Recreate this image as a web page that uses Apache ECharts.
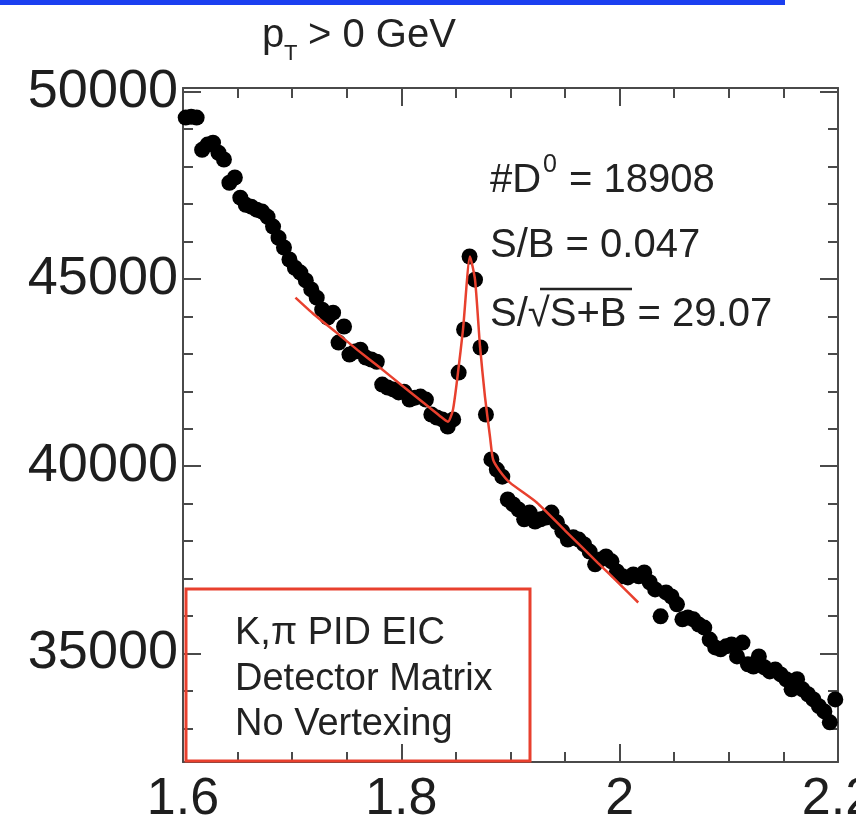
<!DOCTYPE html>
<html>
<head>
<meta charset="utf-8">
<script src="https://cdn.jsdelivr.net/npm/echarts@6/dist/echarts.min.js"></script>
<style>
html,body{margin:0;padding:0;background:#fff;}
#chart{width:856px;height:824px;}
</style>
</head>
<body>
<div id="chart"></div>
<script>
// invariant mass bin centers (GeV)
const mass = [
1.6025,1.6075,1.6125,1.6175,1.6225,1.6275,1.6325,1.6375,1.6425,1.6475,
1.6525,1.6575,1.6625,1.6675,1.6725,1.6775,1.6825,1.6875,1.6925,1.6975,
1.7025,1.7075,1.7125,1.7175,1.7225,1.7275,1.7325,1.7375,1.7425,1.7475,
1.7525,1.7575,1.7625,1.7675,1.7725,1.7775,1.7825,1.7875,1.7925,1.7975,
1.8025,1.8075,1.8125,1.8175,1.8225,1.8275,1.8325,1.8375,1.8425,1.8475,
1.8525,1.8575,1.8625,1.8675,1.8725,1.8775,1.8825,1.8875,1.8925,1.8975,
1.9025,1.9075,1.9125,1.9175,1.9225,1.9275,1.9325,1.9375,1.9425,1.9475,
1.9525,1.9575,1.9625,1.9675,1.9725,1.9775,1.9825,1.9875,1.9925,1.9975,
2.0025,2.0075,2.0125,2.0175,2.0225,2.0275,2.0325,2.0375,2.0425,2.0475,
2.0525,2.0575,2.0625,2.0675,2.0725,2.0775,2.0825,2.0875,2.0925,2.0975,
2.1025,2.1075,2.1125,2.1175,2.1225,2.1275,2.1325,2.1375,2.1425,2.1475,
2.1525,2.1575,2.1625,2.1675,2.1725,2.1775,2.1825,2.1875,2.1925,2.1975
];
// counts per bin
const counts = [
49310,49330,49310,48450,48590,48640,48370,48190,47570,47710,
47170,46980,46930,46850,46800,46660,46400,46100,45840,45520,
45300,45170,44960,44720,44500,44180,43970,44100,43300,43730,
42980,43060,43110,42900,42850,42790,42180,42100,42050,41970,
41990,41780,41830,41860,41780,41380,41300,41250,41060,41250,
42500,43650,45600,44980,43170,41380,40180,39910,39720,39110,
38980,38840,38580,38760,38520,38580,38630,38760,38500,38260,
38040,38100,38040,37910,37720,37380,37510,37590,37460,37190,
37060,37030,37110,37060,37160,36900,36710,35990,36630,36520,
36310,35910,35960,35910,35770,35690,35370,35160,35110,35190,
35240,34920,35290,34710,34650,34920,34630,34520,34570,34440,
34310,34040,34310,34040,33910,33770,33590,33450,33160,33770
];
// fit curve (signal + background)
const fitMass = [1.703,1.720,1.740,1.760,1.780,1.800,1.820,1.835,1.8427,1.8473,1.8519,1.8565,1.8629,1.8675,1.8721,1.8766,1.8812,1.8840,1.8900,1.8995,1.924,1.950,1.980,2.000,2.017];
const fitVal  = [44500,44050,43580,43100,42640,42170,41700,41350,41190,41510,42500,43650,45600,44980,43190,41860,40790,40180,39880,39560,39030,38280,37420,36850,36360];

const xMajor = [1.6,1.8,2.0,2.2];
const xMinor = [1.65,1.7,1.75,1.85,1.9,1.95,2.05,2.1,2.15];
const yMajor = [35000,40000,45000,50000];
const yMinor = [33000,34000,36000,37000,38000,39000,41000,42000,43000,44000,46000,47000,48000,49000];
const xMin = 1.6, xMax = 2.2, yMin = 32100, yMax = 50100;

const FONT = "'Liberation Sans', Arial, Helvetica, sans-serif";
const axisColor = '#4a4a4a';
const redColor = '#e8402e';

function xAx(pos, ticks, len, labels, showLine) {
  return {
    type: 'value', position: pos, min: xMin, max: xMax,
    axisLine: {show: showLine, onZero: false, lineStyle: {color: axisColor, width: 2}},
    axisTick: {show: true, inside: true, length: len, customValues: ticks, lineStyle: {color: axisColor, width: 2}},
    axisLabel: labels ? {show: true, customValues: xMajor, margin: 12, fontSize: 52, color: '#1e1e1e', fontFamily: FONT,
      formatter: v => String(+(+v).toFixed(1))} : {show: false},
    splitLine: {show: false}
  };
}
function yAx(pos, ticks, len, labels, showLine) {
  return {
    type: 'value', position: pos, min: yMin, max: yMax,
    axisLine: {show: showLine, onZero: false, lineStyle: {color: axisColor, width: 2}},
    axisTick: {show: true, inside: true, length: len, customValues: ticks, lineStyle: {color: axisColor, width: 2}},
    axisLabel: labels ? {show: true, customValues: yMajor, margin: 5, fontSize: 54, color: '#1e1e1e', fontFamily: FONT,
      formatter: v => String(Math.round(v))} : {show: false},
    splitLine: {show: false}
  };
}

const chart = echarts.init(document.getElementById('chart'), null, {renderer: 'canvas'});
const option = {
  backgroundColor: '#ffffff',
  animation: false,
  grid: {left: 183, right: 18, top: 88, bottom: 62, containLabel: false, outerBoundsMode: 'none'},
  xAxis: [
    xAx('bottom', xMajor, 18, true, true),
    xAx('bottom', xMinor, 10, false, false),
    xAx('top', xMajor, 18, false, true),
    xAx('top', xMinor, 10, false, false)
  ],
  yAxis: [
    yAx('left', yMajor, 18, true, true),
    yAx('left', yMinor, 10, false, false),
    yAx('right', yMajor, 18, false, true),
    yAx('right', yMinor, 10, false, false)
  ],
  series: [
    {
      type: 'scatter', xAxisIndex: 0, yAxisIndex: 0,
      data: mass.map((m, i) => [m, counts[i]]),
      symbol: 'circle', symbolSize: 16,
      itemStyle: {color: '#000000', opacity: 1}, z: 2
    },
    {
      type: 'line', xAxisIndex: 0, yAxisIndex: 0,
      data: fitMass.map((m, i) => [m, fitVal[i]]),
      showSymbol: false, symbol: 'none', smooth: 0.2,
      lineStyle: {color: redColor, width: 2.5}, z: 3
    }
  ],
  graphic: [
    {type: 'rect', shape: {x: 0, y: 0, width: 785, height: 5}, style: {fill: '#1b3ff0'}},
    // title
    {type: 'text', x: 262, y: 36, style: {text: 'p', fontSize: 40, fontFamily: FONT, fill: '#222', textVerticalAlign: 'middle', verticalAlign: 'middle'}},
    {type: 'text', x: 284, y: 54, style: {text: 'T', fontSize: 22, fontFamily: FONT, fill: '#222', textVerticalAlign: 'middle', verticalAlign: 'middle'}},
    {type: 'text', x: 308, y: 36, style: {text: '> 0 GeV', fontSize: 40, fontFamily: FONT, fill: '#222', textVerticalAlign: 'middle', verticalAlign: 'middle'}},
    // annotations
    {type: 'text', x: 490, y: 181, style: {text: '#D', fontSize: 40, fontFamily: FONT, fill: '#222', textVerticalAlign: 'middle', verticalAlign: 'middle'}},
    {type: 'text', x: 543, y: 165, style: {text: '0', fontSize: 25, fontFamily: FONT, fill: '#222', textVerticalAlign: 'middle', verticalAlign: 'middle'}},
    {type: 'text', x: 558, y: 181, style: {text: ' = 18908', fontSize: 40, fontFamily: FONT, fill: '#222', textVerticalAlign: 'middle', verticalAlign: 'middle'}},
    {type: 'text', x: 490, y: 246, style: {text: 'S/B = 0.047', fontSize: 40, fontFamily: FONT, fill: '#222', textVerticalAlign: 'middle', verticalAlign: 'middle'}},
    {type: 'text', x: 490, y: 315, style: {text: 'S/\u221AS+B = 29.07', fontSize: 40, fontFamily: FONT, fill: '#222', textVerticalAlign: 'middle', verticalAlign: 'middle'}},
    {type: 'line', shape: {x1: 540, y1: 289, x2: 632, y2: 289}, style: {stroke: '#222', lineWidth: 2.5}},
    // detector box
    {type: 'rect', shape: {x: 186, y: 589, width: 344, height: 172}, style: {fill: 'none', stroke: redColor, lineWidth: 3}, z: 10},
    {type: 'text', x: 235, y: 634, style: {text: 'K,\u03C0 PID EIC', fontSize: 38, fontFamily: FONT, fill: '#222', textVerticalAlign: 'middle', verticalAlign: 'middle'}},
    {type: 'text', x: 235, y: 680, style: {text: 'Detector Matrix', fontSize: 38, fontFamily: FONT, fill: '#222', textVerticalAlign: 'middle', verticalAlign: 'middle'}},
    {type: 'text', x: 235, y: 725, style: {text: 'No Vertexing', fontSize: 38, fontFamily: FONT, fill: '#222', textVerticalAlign: 'middle', verticalAlign: 'middle'}}
  ]
};
chart.setOption(option);
</script>
</body>
</html>
